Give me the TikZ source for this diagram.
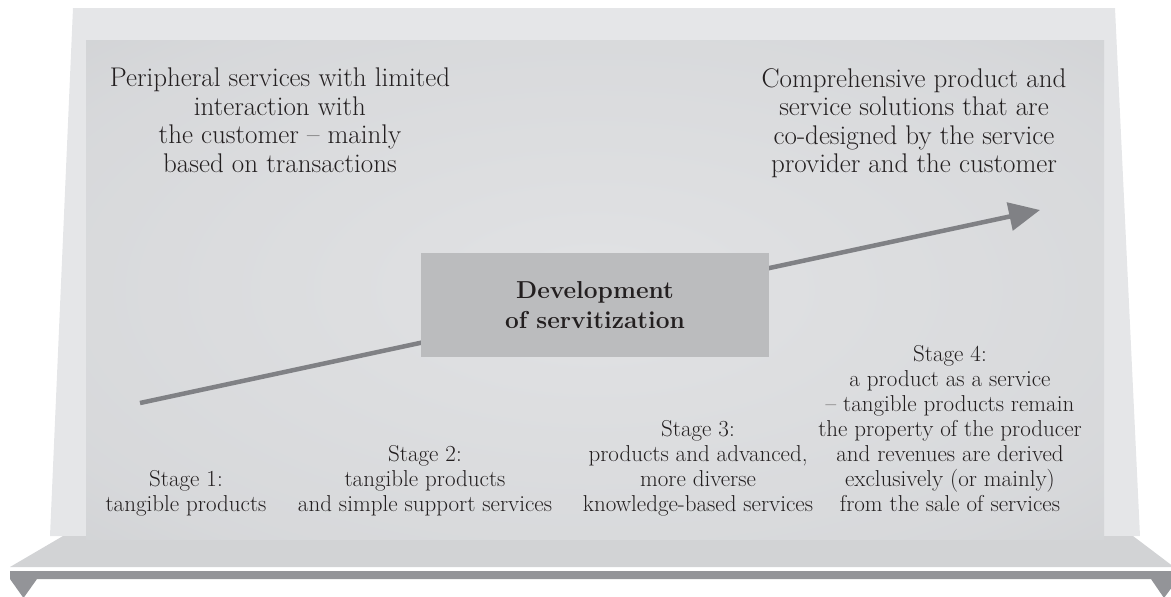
\documentclass[tikz,border=0pt]{standalone}
\usepackage{fontspec}
\usepackage{tikz}
\usetikzlibrary{arrows.meta}
\definecolor{framegray}{HTML}{E5E6E8}
\definecolor{panelmid}{HTML}{E1E2E4}
\definecolor{paneledge}{HTML}{B9BBBE}
\definecolor{shelfgray}{HTML}{D2D3D5}
\definecolor{bargray}{HTML}{939498}
\definecolor{arrowgray}{HTML}{808185}
\definecolor{boxgray}{HTML}{BBBCBE}
\definecolor{inkgray}{HTML}{231F20}
\pgfdeclareradialshading{panelshade}{\pgfpoint{0bp}{0bp}}{color(0bp)=(panelmid); color(30bp)=(panelmid!75!paneledge); color(71bp)=(paneledge)}
\tikzstyle{toptext}=[align=center,inner sep=0pt,anchor=north,text=inkgray,font=\fontsize{27}{28.5}\selectfont]
\tikzstyle{stagetext}=[align=center,inner sep=0pt,anchor=south,text depth=0pt,text=inkgray,font=\fontsize{23}{25}\selectfont]
\tikzstyle{devbox}=[fill=boxgray,minimum width=348pt,minimum height=104pt,align=center,text=inkgray,font=\fontsize{24.5}{30}\selectfont\bfseries]
\tikzstyle{growth}=[arrowgray,line width=4.5pt,-{Triangle[length=31pt,width=28pt]}]

\begin{document}
\begin{tikzpicture}[x=1pt,y=-1pt]
\useasboundingbox (0,0) rectangle (1171,597);
\fill[framegray] (73,8) -- (1115,8) -- (1140,536) -- (50,536) -- cycle;
\fill[shelfgray] (63,536) -- (1133,536) -- (1174,567) -- (10,567) -- cycle;
\fill[bargray] (10,571) -- (1178,571) -- (1178,579) -- (1164,598) -- (1151,579)
    -- (37,579) -- (23.5,598) -- (10,579) -- cycle;
\shade[shading=panelshade] (86,40) rectangle (1104,539);

\coordinate (low) at (140,403);
\coordinate (high) at (1040,210);
\draw[growth] (low) -- (high);
\node[devbox] (devel) at (595,305) {Development\\of servitization};

\node[toptext] (periph) at (280,68) {Peripheral services with limited\\interaction with\\the customer -- mainly\\based on transactions};
\node[toptext] (compre) at (914,68) {Comprehensive product and\\service solutions that are\\co-designed by the service\\provider and the customer};

\node[stagetext] (stageA) at (186,512) {Stage 1:\\tangible products};
\node[stagetext] (stageB) at (425,512) {Stage 2:\\tangible products\\and simple support services};
\node[stagetext] (stageC) at (698,512) {Stage 3:\\products and advanced,\\more diverse\\knowledge-based services};
\node[stagetext] (stageD) at (950,512) {Stage 4:\\a product as a service\\-- tangible products remain\\the property of the producer\\and revenues are derived\\exclusively (or mainly)\\from the sale of services};
\end{tikzpicture}
\end{document}
